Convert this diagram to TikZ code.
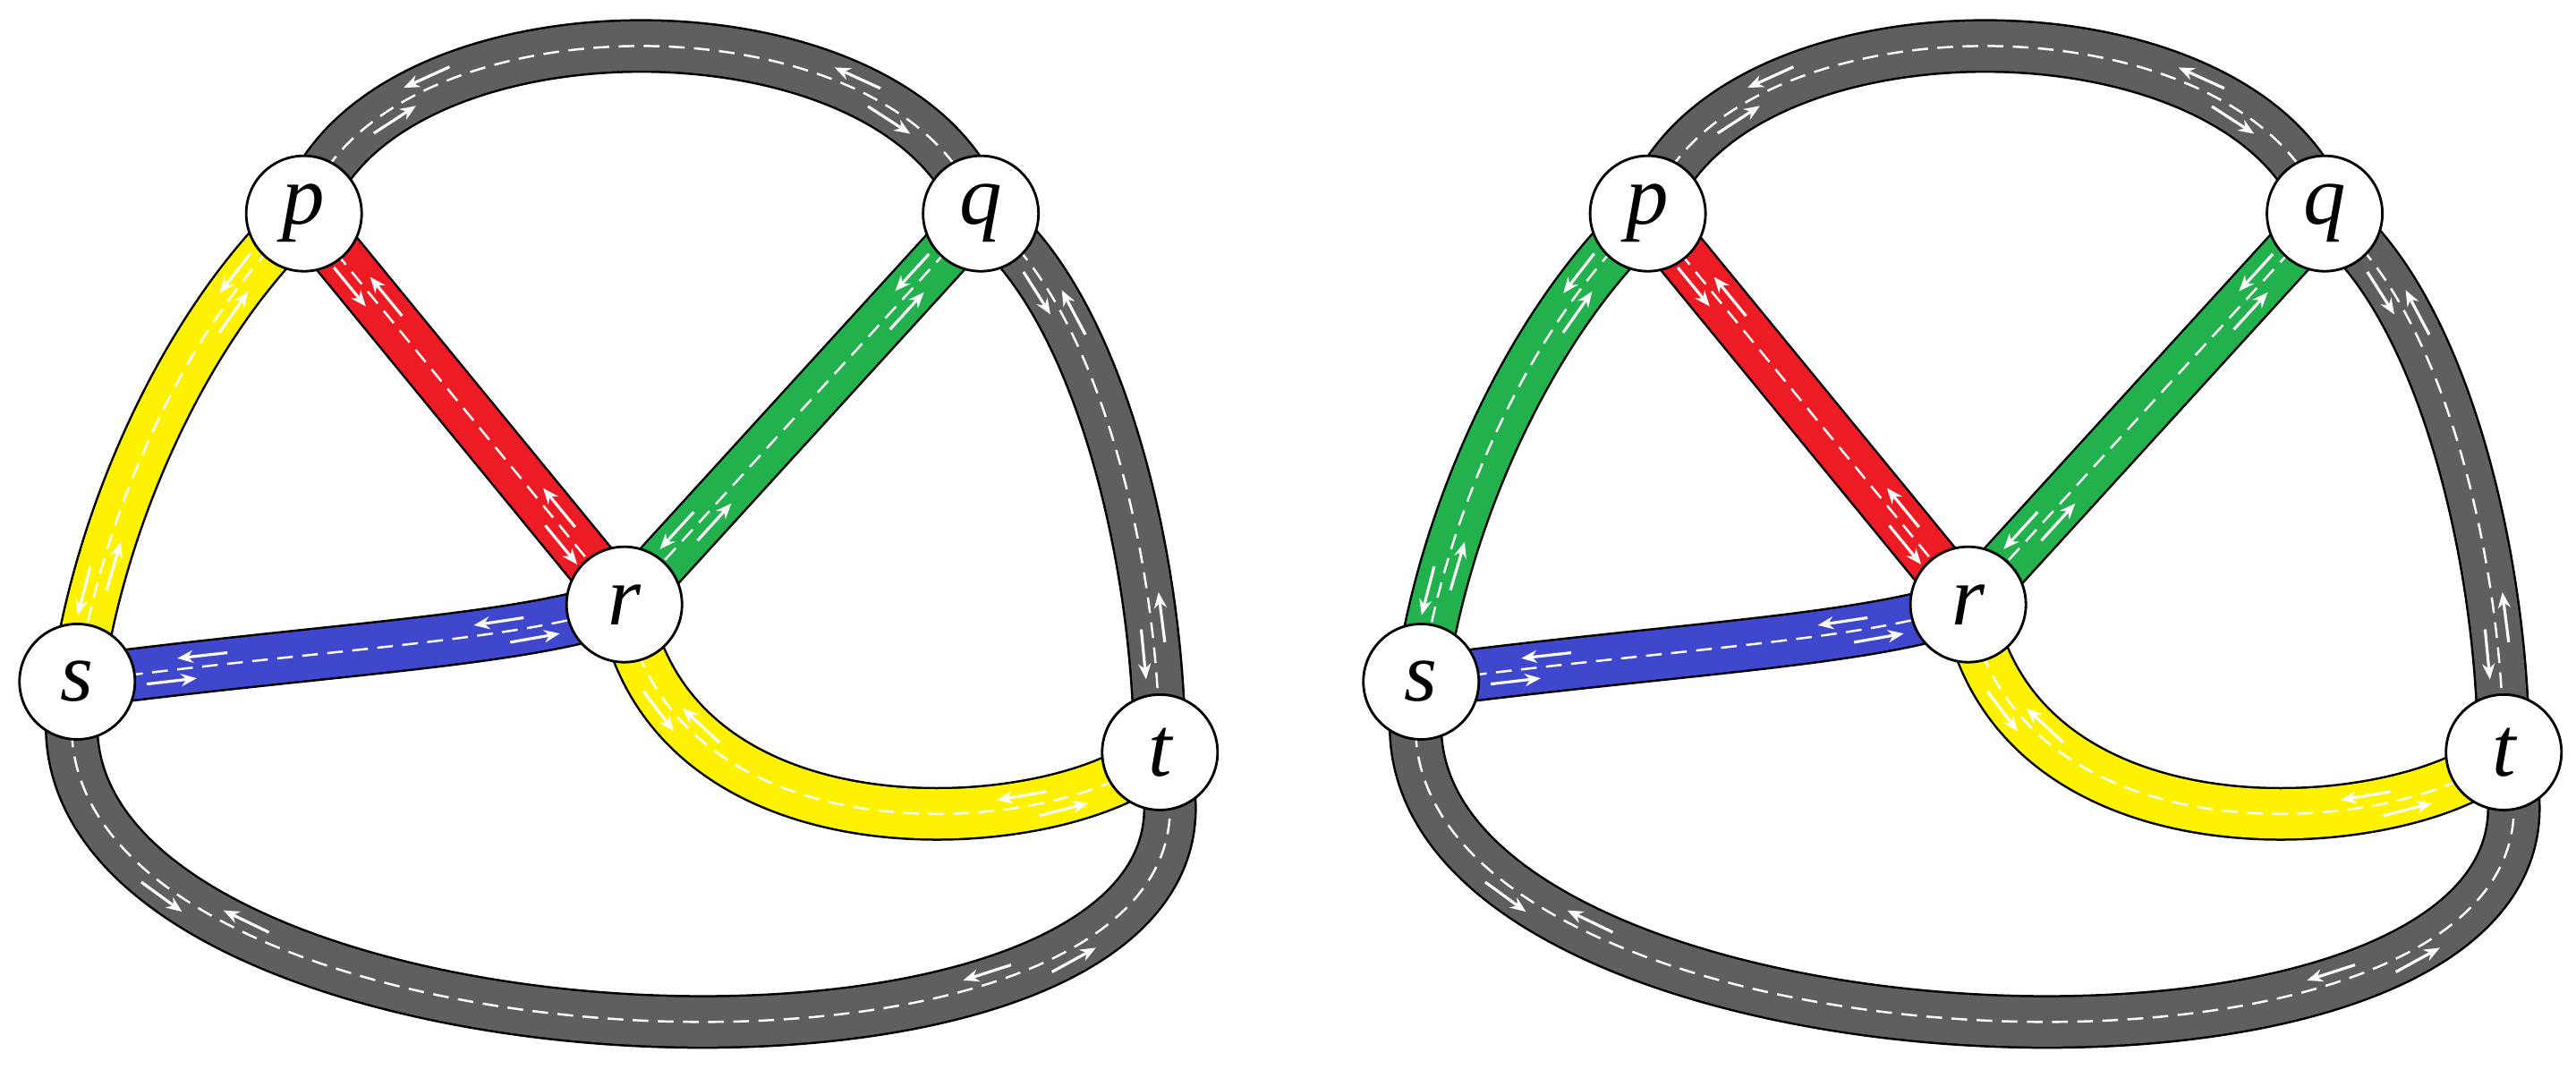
\documentclass[tikz,border=0pt]{standalone}
\usepackage{fontspec}
\setmainfont{Liberation Serif}
\usetikzlibrary{decorations.markings,arrows.meta}
\definecolor{rg}{HTML}{5F5F5F}
\definecolor{ry}{HTML}{FFF200}
\definecolor{rr}{HTML}{ED1C24}
\definecolor{rgr}{HTML}{22B14C}
\definecolor{rb}{HTML}{3F48CC}
\pgfdeclarelayer{bg}
\pgfsetlayers{bg,main}
\tikzset{
 arr/.style={white,line width=0.9pt,-{Stealth[length=5pt,width=4pt]}},
 road/.style={line width=0.55cm,draw=#1,preaction={draw=black,line width=0.6cm},
   postaction={draw=white,line width=0.7pt,dash pattern=on 5pt off 3pt},
   postaction={decorate,decoration={markings,
     mark=at position 0.17 with {\draw[arr] (-8pt,-3.5pt) -- (8pt,-3.5pt);},
     mark=at position 0.83 with {\draw[arr] (-8pt,-3.5pt) -- (8pt,-3.5pt);},
     mark=at position 0.23 with {\draw[arr] (8pt,3.5pt) -- (-8pt,3.5pt);},
     mark=at position 0.77 with {\draw[arr] (8pt,3.5pt) -- (-8pt,3.5pt);}}}},
 city/.style={circle,draw=black,line width=0.8pt,fill=white,minimum size=1.29cm,inner sep=0pt,
   font=\fontsize{27}{30}\selectfont\itshape}
}
\newcommand\mynet[2]{%
 \node[city] (p#1) at (185,130) {p};
 \node[city] (q#1) at (597,130) {q};
 \node[city] (r#1) at (380,368) {r};
 \node[city] (s#1) at (47,415) {s};
 \node[city] (t#1) at (706,458) {t};
 \begin{pgfonlayer}{bg}
 \draw[road=rg] (p#1.center) .. controls (230,-6) and (550,-6) .. (q#1.center);
 \draw[road=rg] (q#1.center) .. controls (665,180) and (705,330) .. (t#1.center);
 \draw[road=#2] (p#1.center) .. controls (110,200) and (60,320) .. (s#1.center);
 \draw[road=rr] (p#1.center) -- (r#1.center);
 \draw[road=rgr] (q#1.center) -- (r#1.center);
 \draw[road=rb] (s#1.center) .. controls (200,395) and (320,390) .. (r#1.center);
 \draw[road=ry] (r#1.center) .. controls (410,530) and (650,510) .. (t#1.center);
 \draw[road=rg] (s#1.center) .. controls (-15,665) and (790,700) .. (t#1.center);
 \end{pgfonlayer}
}
\begin{document}
\begin{tikzpicture}[x=0.01836cm,y=-0.01836cm]
\useasboundingbox (0,0) rectangle (1568,656);
\mynet{a}{ry}
\begin{scope}[shift={(818,0)}]
\mynet{b}{rgr}
\end{scope}
\end{tikzpicture}
\end{document}
